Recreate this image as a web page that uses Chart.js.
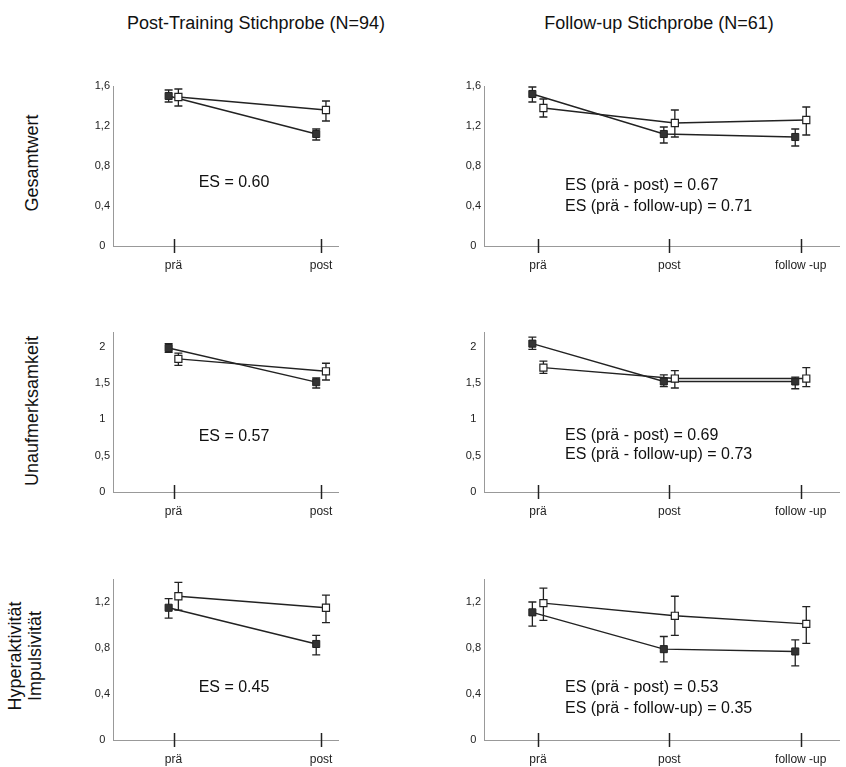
<!DOCTYPE html>
<html>
<head>
<meta charset="utf-8">
<script src="https://cdn.jsdelivr.net/npm/chart.js@4.4.0/dist/chart.umd.min.js"></script>
<style>
  body { margin: 0; background: #fff; width: 846px; height: 767px; overflow: hidden; position: relative;
         font-family: "Liberation Sans", Arial, sans-serif; color: #111; }
  canvas { position: absolute; }
  .titel { position: absolute; white-space: nowrap; font-size: 18px; transform: translate(-50%, -50%); }
  .zeile { position: absolute; white-space: nowrap; font-size: 18px; line-height: 20px; text-align: center;
           transform: translate(-50%, -50%) rotate(-90deg); }
  .es1 { position: absolute; white-space: nowrap; font-size: 16px; transform: translate(-50%, -50%); }
  .es2 { position: absolute; white-space: nowrap; font-size: 16px; line-height: 21px; }
</style>
</head>
<body>

<div class="titel" style="left:256px; top:23px">Post-Training Stichprobe (N=94)</div>
<div class="titel" style="left:659px; top:23px">Follow-up Stichprobe (N=61)</div>

<div class="zeile" style="left:32px; top:163px">Gesamtwert</div>
<div class="zeile" style="left:32px; top:411px">Unaufmerksamkeit</div>
<div class="zeile" style="left:25px; top:656px">Hyperaktivität<br>Impulsivität</div>

<canvas id="ges-pt" width="290" height="202" style="left:55px; top:74px"></canvas>
<canvas id="ges-fu" width="421" height="202" style="left:425px; top:74px"></canvas>
<canvas id="una-pt" width="290" height="202" style="left:55px; top:320px"></canvas>
<canvas id="una-fu" width="421" height="202" style="left:425px; top:320px"></canvas>
<canvas id="hyp-pt" width="290" height="200" style="left:55px; top:567px"></canvas>
<canvas id="hyp-fu" width="421" height="200" style="left:425px; top:567px"></canvas>

<div class="es1" style="left:234px; top:182px">ES = 0.60</div>
<div class="es2" style="left:565px; top:174px">ES (prä - post) = 0.67<br>ES (prä - follow-up) = 0.71</div>
<div class="es1" style="left:234px; top:436px">ES = 0.57</div>
<div class="es2" style="left:565px; top:425px; line-height:19px">ES (prä - post) = 0.69<br>ES (prä - follow-up) = 0.73</div>
<div class="es1" style="left:234px; top:687px">ES = 0.45</div>
<div class="es2" style="left:565px; top:676px">ES (prä - post) = 0.53<br>ES (prä - follow-up) = 0.35</div>

<script>
// Messzeitpunkte
var zeitPT = ["prä", "post"];
var zeitFU = ["prä", "post", "follow -up"];

// Gesamtwert – Post-Training (gefüllt / offen), Mittelwert und Fehlerbalken
var gesPT_voll = [1.50, 1.12];
var gesPT_vollLo = [1.44, 1.06];
var gesPT_vollHi = [1.56, 1.17];
var gesPT_offen = [1.49, 1.36];
var gesPT_offenLo = [1.40, 1.25];
var gesPT_offenHi = [1.57, 1.45];

// Gesamtwert – Follow-up
var gesFU_voll = [1.52, 1.12, 1.09];
var gesFU_vollLo = [1.44, 1.03, 1.00];
var gesFU_vollHi = [1.59, 1.19, 1.17];
var gesFU_offen = [1.38, 1.23, 1.26];
var gesFU_offenLo = [1.29, 1.09, 1.11];
var gesFU_offenHi = [1.47, 1.36, 1.39];

// Unaufmerksamkeit – Post-Training
var unaPT_voll = [1.98, 1.51];
var unaPT_vollLo = [1.92, 1.43];
var unaPT_vollHi = [2.04, 1.57];
var unaPT_offen = [1.83, 1.66];
var unaPT_offenLo = [1.74, 1.54];
var unaPT_offenHi = [1.91, 1.77];

// Unaufmerksamkeit – Follow-up
var unaFU_voll = [2.04, 1.52, 1.52];
var unaFU_vollLo = [1.96, 1.45, 1.42];
var unaFU_vollHi = [2.13, 1.61, 1.58];
var unaFU_offen = [1.71, 1.56, 1.56];
var unaFU_offenLo = [1.63, 1.43, 1.45];
var unaFU_offenHi = [1.80, 1.67, 1.71];

// Hyperaktivität/Impulsivität – Post-Training
var hypPT_voll = [1.15, 0.835];
var hypPT_vollLo = [1.06, 0.74];
var hypPT_vollHi = [1.23, 0.91];
var hypPT_offen = [1.25, 1.15];
var hypPT_offenLo = [1.13, 1.02];
var hypPT_offenHi = [1.37, 1.26];

// Hyperaktivität/Impulsivität – Follow-up
var hypFU_voll = [1.11, 0.79, 0.77];
var hypFU_vollLo = [0.99, 0.68, 0.645];
var hypFU_vollHi = [1.20, 0.90, 0.87];
var hypFU_offen = [1.19, 1.08, 1.01];
var hypFU_offenLo = [1.04, 0.91, 0.84];
var hypFU_offenHi = [1.32, 1.25, 1.16];

// y-Achsen
var yMaxGes = 1.6, yStepGes = 0.4;
var yMaxUna = 2.2, yStepUna = 0.5;
var yMaxHyp = 1.4, yStepHyp = 0.4;

Chart.defaults.font.family = '"Liberation Sans", Arial, sans-serif';
Chart.defaults.color = "#222";

// Fehlerbalken und Teilstriche auf der x-Achse
var fehlerbalken = {
  id: "fehlerbalken",
  beforeDatasetsDraw: function (chart) {
    var ctx = chart.ctx, y = chart.scales.y;
    ctx.save();
    ctx.strokeStyle = "#222";
    ctx.lineWidth = 1.3;
    chart.data.datasets.forEach(function (ds, d) {
      chart.getDatasetMeta(d).data.forEach(function (pt, i) {
        var top = y.getPixelForValue(ds.hi[i]);
        var bot = y.getPixelForValue(ds.lo[i]);
        ctx.beginPath();
        ctx.moveTo(pt.x, top); ctx.lineTo(pt.x, bot);
        ctx.moveTo(pt.x - 4, top); ctx.lineTo(pt.x + 4, top);
        ctx.moveTo(pt.x - 4, bot); ctx.lineTo(pt.x + 4, bot);
        ctx.stroke();
      });
    });
    ctx.restore();
  },
  afterDraw: function (chart) {
    var ctx = chart.ctx, x = chart.scales.x, b = chart.chartArea.bottom;
    ctx.save();
    ctx.strokeStyle = "#222";
    ctx.lineWidth = 1.5;
    x.ticks.forEach(function (t) {
      var px = Math.round(x.getPixelForValue(t.value)) + 0.5;
      ctx.beginPath();
      ctx.moveTo(px, b - 7);
      ctx.lineTo(px, b + 7);
      ctx.stroke();
    });
    ctx.restore();
  }
};

function komma(v) {
  return String(Math.round(v * 10) / 10).replace(".", ",");
}

function panel(id, zeit, voll, vollLo, vollHi, offen, offenLo, offenHi, yMax, yStep, xMin, xMax, versatz, yBreite, xHoehe) {
  new Chart(document.getElementById(id), {
    type: "scatter",
    data: {
      datasets: [
        {
          data: offen.map(function (v, i) { return { x: i + versatz, y: v }; }),
          lo: offenLo, hi: offenHi,
          showLine: true,
          borderColor: "#222", borderWidth: 1.4,
          pointStyle: "rect", pointRadius: 5,
          pointBackgroundColor: "#fff", pointBorderColor: "#222", pointBorderWidth: 1.2,
          order: 1
        },
        {
          data: voll.map(function (v, i) { return { x: i - versatz, y: v }; }),
          lo: vollLo, hi: vollHi,
          showLine: true,
          borderColor: "#222", borderWidth: 1.4,
          pointStyle: "rect", pointRadius: 5,
          pointBackgroundColor: "#333", pointBorderColor: "#222", pointBorderWidth: 1,
          order: 2
        }
      ]
    },
    options: {
      responsive: false,
      animation: false,
      layout: { padding: { top: 12, right: 5, left: 0, bottom: 0 } },
      plugins: { legend: { display: false }, tooltip: { enabled: false } },
      scales: {
        x: {
          type: "linear", min: xMin, max: xMax,
          afterBuildTicks: function (s) { s.ticks = zeit.map(function (c, i) { return { value: i }; }); },
          afterFit: function (s) { s.height = xHoehe; },
          grid: { display: false, drawTicks: false },
          border: { display: true, color: "#999" },
          ticks: {
            padding: 12, autoSkip: false, maxRotation: 0,
            font: { size: 12 }, color: "#222",
            callback: function (v) { return zeit[v] || ""; }
          }
        },
        y: {
          min: 0, max: yMax,
          afterFit: function (s) { s.width = yBreite; },
          grid: { display: false, drawTicks: false },
          border: { display: true, color: "#999" },
          ticks: {
            stepSize: yStep, includeBounds: false, padding: 3, crossAlign: "center",
            font: { size: 11 }, color: "#222",
            callback: function (v) { return komma(v); }
          }
        }
      }
    },
    plugins: [fehlerbalken]
  });
}

panel("ges-pt", zeitPT, gesPT_voll, gesPT_vollLo, gesPT_vollHi, gesPT_offen, gesPT_offenLo, gesPT_offenHi, yMaxGes, yStepGes, -0.41, 1.12, 0.033, 58, 30);
panel("ges-fu", zeitFU, gesFU_voll, gesFU_vollLo, gesFU_vollHi, gesFU_offen, gesFU_offenLo, gesFU_offenHi, yMaxGes, yStepGes, -0.41, 2.297, 0.042, 59, 30);
panel("una-pt", zeitPT, unaPT_voll, unaPT_vollLo, unaPT_vollHi, unaPT_offen, unaPT_offenLo, unaPT_offenHi, yMaxUna, yStepUna, -0.41, 1.12, 0.033, 58, 30);
panel("una-fu", zeitFU, unaFU_voll, unaFU_vollLo, unaFU_vollHi, unaFU_offen, unaFU_offenLo, unaFU_offenHi, yMaxUna, yStepUna, -0.41, 2.297, 0.042, 59, 30);
panel("hyp-pt", zeitPT, hypPT_voll, hypPT_vollLo, hypPT_vollHi, hypPT_offen, hypPT_offenLo, hypPT_offenHi, yMaxHyp, yStepHyp, -0.41, 1.12, 0.033, 58, 27);
panel("hyp-fu", zeitFU, hypFU_voll, hypFU_vollLo, hypFU_vollHi, hypFU_offen, hypFU_offenLo, hypFU_offenHi, yMaxHyp, yStepHyp, -0.41, 2.297, 0.042, 59, 27);
</script>
</body>
</html>
